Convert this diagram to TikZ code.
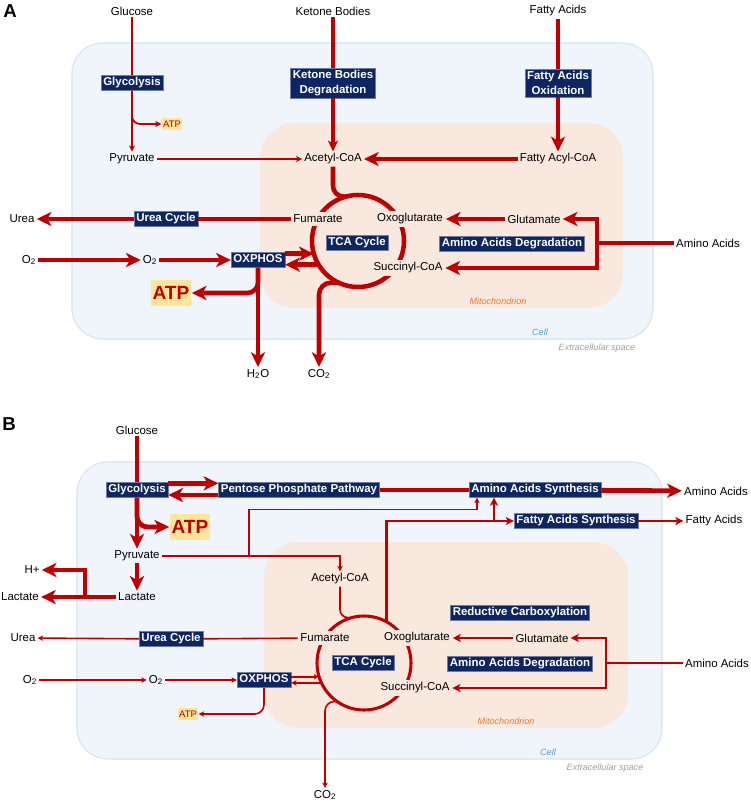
\documentclass[tikz,border=0pt]{standalone}
\usepackage{fontspec}
\setmainfont{Liberation Sans}
\usetikzlibrary{arrows.meta}
\definecolor{tred}{RGB}{192,0,0}
\definecolor{navyb}{RGB}{14,37,99}
\definecolor{cellfill}{RGB}{239,245,251}
\definecolor{celledge}{RGB}{212,228,245}
\definecolor{mitofill}{RGB}{249,232,221}
\definecolor{atpbg}{RGB}{255,229,153}
\definecolor{mitotext}{RGB}{237,125,49}
\definecolor{celltext}{RGB}{91,155,213}
\definecolor{exttext}{RGB}{160,160,160}

\begin{document}
\begin{tikzpicture}[x=0.75pt,y=-0.75pt,
      metab/.style={font=\fontsize{8.6}{10}\selectfont, inner sep=1.5pt},
      oncycle/.style={metab, fill=mitofill, inner sep=2pt},
      pathway/.style={fill=navyb, draw=navyb!60!white, line width=0.3pt, text=white, font=\bfseries\fontsize{8.6}{10}\selectfont, inner xsep=1.8pt, inner ysep=1.5pt, text height=6.3pt, text depth=1.9pt},
      pathwaytwo/.style={fill=navyb, draw=navyb!60!white, line width=0.3pt, text=white, font=\bfseries\fontsize{8.6}{10.8}\selectfont, align=center, inner xsep=1.8pt, inner ysep=2pt},
      atpsmall/.style={fill=atpbg, text=tred, font=\fontsize{7.1}{8}\selectfont, inner xsep=1.2pt, inner ysep=2.2pt, text height=5.2pt, text depth=0pt},
      atpbig/.style={fill=atpbg, text=tred, font=\bfseries\fontsize{14.3}{16}\selectfont, inner xsep=1.6pt, inner ysep=4.6pt, text height=10.3pt, text depth=0pt},
      region/.style={font=\itshape\fontsize{6.8}{8}\selectfont},
      panel/.style={font=\bfseries\fontsize{14}{16}\selectfont, inner sep=0pt},
      cellbox/.style={fill=cellfill, draw=celledge, line width=0.8pt, rounded corners=23pt},
      mitobox/.style={fill=mitofill, rounded corners=26pt},
      tca/.style={circle, draw=tred, inner sep=0pt, outer sep=0pt},
      thickA/.style={draw=tred, line width=3.4pt, -{Stealth[length=11pt,width=10.5pt,inset=3pt]}},
      medA/.style={draw=tred, line width=2.4pt, -{Stealth[length=8pt,width=7.5pt,inset=2pt]}},
      thinA/.style={draw=tred, line width=1.3pt, -{Stealth[length=4.5pt,width=4.5pt,inset=1.2pt]}},
      thickB/.style={draw=tred, line width=3.6pt, -{Stealth[length=11pt,width=10.5pt,inset=3pt]}},
      medB/.style={draw=tred, line width=2pt, -{Stealth[length=6pt,width=6pt,inset=1.5pt]}},
      thinB/.style={draw=tred, line width=1.2pt, -{Stealth[length=4pt,width=4pt,inset=1pt]}}
    ]
    \useasboundingbox (0,0) rectangle (750,802);

    % panel A
    \draw[cellbox] (72,43) rectangle (653,339);
    \fill[mitobox] (260,123) rectangle (623,308);
    \node[panel] (lblA) at (10,11) {A};

    \node[metab] (glcA) at (132,11) {Glucose};
    \node[metab] (kbA) at (333,11) {Ketone Bodies};
    \node[metab] (faA) at (558,11) {Fatty Acids};
    \node[pathway] (glyA) at (132,83) {Glycolysis};
    \node[pathwaytwo] (kbdA) at (333,83) {Ketone Bodies\\Degradation};
    \node[pathwaytwo] (faoA) at (558,83) {Fatty Acids\\Oxidation};
    \node[atpsmall] (atpA) at (172,124) {ATP};
    \node[metab] (pyrA) at (132,159) {Pyruvate};
    \node[metab] (acA) at (333,159) {Acetyl-CoA};
    \node[metab] (facA) at (558,159) {Fatty Acyl-CoA};
    \node[tca, line width=3.4pt, minimum size=69pt] (tcaA) at (358,241) {};
    \node[pathway] (tcalA) at (357,243) {TCA Cycle};
    \node[oncycle] (fumA) at (318,219) {Fumarate};
    \node[oncycle] (oxgA) at (410,219) {Oxoglutarate};
    \node[oncycle] (sucA) at (408,268) {Succinyl-CoA};
    \node[metab] (ureaA) at (22,219) {Urea};
    \node[pathway] (ucA) at (166,219) {Urea Cycle};
    \node[metab] (o2oA) at (29,260) {O\textsubscript{2}};
    \node[metab] (o2iA) at (150,260) {O\textsubscript{2}};
    \node[pathway] (oxA) at (258,260) {OXPHOS};
    \node[atpbig] (atpbigA) at (171,293) {ATP};
    \node[metab] (h2oA) at (258,374) {H\textsubscript{2}O};
    \node[metab] (co2A) at (319,374) {CO\textsubscript{2}};
    \node[metab] (gluA) at (534,219) {Glutamate};
    \node[pathway] (aadA) at (512,244) {Amino Acids Degradation};
    \node[metab] (aaA) at (708,243) {Amino Acids};
    \coordinate (jA) at (597,243);
    \node[region, text=mitotext] (mitoA) at (498,301) {Mitochondrion};
    \node[region, text=celltext] (cellA) at (540,332) {Cell};
    \node[region, text=exttext] (extA) at (597,348) {Extracellular space};

    \draw[thinA,-] (glcA) -- (glyA);
    \draw[thinA] (glyA) -- (pyrA);
    \draw[thinA, rounded corners=6pt] (glyA.south) |- (atpA.west);
    \draw[thinA] (pyrA) -- (acA);
    \draw[medA,-] (kbA) -- (kbdA);
    \draw[medA] (kbdA) -- (acA);
    \draw[thickA,-] (faA) -- (faoA);
    \draw[thickA] (faoA) -- (facA);
    \draw[thickA] (facA) -- (acA);
    \draw[thickA,-,rounded corners=8pt] (acA.south) |- (tcaA.105);
    \draw[thickA,-] (fumA) -- (ucA);
    \draw[thickA] (ucA) -- (ureaA);
    \draw[thickA] (o2oA) -- (o2iA);
    \draw[thickA] (o2iA) -- (oxA);
    \draw[thickA] (tcaA.196 -| oxA.east) -- (tcaA.196);
    \draw[thickA] (tcaA.211) -- (tcaA.211 -| oxA.east);
    \draw[thickA] (oxA) -- (h2oA);
    \draw[thickA, rounded corners=8pt] (oxA.south) |- (atpbigA.east);
    \draw[thickA, rounded corners=9pt] (tcaA.245) -| (co2A.north);
    \draw[thickA,-] (aaA) -- (jA);
    \draw[thickA] (jA) |- (gluA.east);
    \draw[thickA] (jA) |- (sucA.east);
    \draw[thickA] (gluA) -- (oxgA);

    % panel B
    \draw[cellbox] (77,462) rectangle (662,759);
    \fill[mitobox] (264,542) rectangle (628,728);
    \node[panel] (lblB) at (9,424) {B};

    \node[metab] (glcB) at (137,430) {Glucose};
    \node[pathway] (glyB) at (137,490) {Glycolysis};
    \node[pathway] (pppB) at (299,490) {Pentose Phosphate Pathway};
    \node[pathway] (aasB) at (535,490) {Amino Acids Synthesis};
    \node[metab] (aaoutB) at (716,491) {Amino Acids};
    \node[pathway] (fasB) at (576,521) {Fatty Acids Synthesis};
    \node[metab] (faoutB) at (714,521) {Fatty Acids};
    \node[atpbig] (atpbigB) at (190,527) {ATP};
    \node[metab] (pyrB) at (137,556) {Pyruvate};
    \node[metab] (lacB) at (137,597) {Lactate};
    \node[metab] (lacoutB) at (20,597) {Lactate};
    \node[metab] (hB) at (32,570) {H+};
    \coordinate (jlB) at (85,597);
    \coordinate (jpB) at (249,556);
    \node[metab] (acB) at (340,579) {Acetyl-CoA};
    \node[tca, line width=2.3pt, minimum size=70.5pt] (tcaB) at (364,663) {};
    \node[pathway] (tcalB) at (363,663) {TCA Cycle};
    \node[oncycle] (fumB) at (325,638) {Fumarate};
    \node[oncycle] (oxgB) at (417,638) {Oxoglutarate};
    \node[oncycle] (sucB) at (415,688) {Succinyl-CoA};
    \node[metab] (ureaB) at (23,638) {Urea};
    \node[pathway] (ucB) at (171,639) {Urea Cycle};
    \node[metab] (o2oB) at (30,680) {O\textsubscript{2}};
    \node[metab] (o2iB) at (156,680) {O\textsubscript{2}};
    \node[pathway] (oxB) at (264,680) {OXPHOS};
    \node[atpsmall] (atpB) at (188,714) {ATP};
    \node[metab] (co2B) at (325,795) {CO\textsubscript{2}};
    \node[pathway] (rcB) at (520,613) {Reductive Carboxylation};
    \node[metab] (glutB) at (542,638) {Glutamate};
    \node[pathway] (aadB) at (520,664) {Amino Acids Degradation};
    \node[metab] (aaB) at (717,663) {Amino Acids};
    \coordinate (jB) at (606,663);
    \node[region, text=mitotext] (mitoB) at (506,721) {Mitochondrion};
    \node[region, text=celltext] (cellB) at (548,752) {Cell};
    \node[region, text=exttext] (extB) at (605,768) {Extracellular space};

    \draw[thickB,-] (glcB) -- (glyB);
    \draw[thickB] (glyB) -- (pyrB);
    \draw[thickB, rounded corners=8pt] (glyB.south) |- (atpbigB.west);
    \draw[thickB] (pyrB) -- (lacB);
    \draw[thickB] (lacB) -- (lacoutB);
    \draw[thickB] (jlB) |- (hB.east);
    \coordinate (gpupB) at ([yshift=5pt]glyB.east);
    \coordinate (gpdnB) at ([yshift=-3.75pt]pppB.west);
    \draw[thickB] (gpupB) -- (gpupB -| pppB.west);
    \draw[thickB] (gpdnB) -- (gpdnB -| glyB.east);
    \draw[thickB,-] (pppB) -- (aasB);
    \draw[thickB] (aasB) -- (aaoutB);
    \draw[medB] (fasB) -- (faoutB);
    \draw[thinB,-] (pyrB) -- (jpB);
    \draw[thinB] (jpB) -| (acB.north);
    \coordinate (aasinB) at ([xshift=-43.5pt]aasB.south);
    \coordinate (aasintB) at ([xshift=-30.75pt]aasB.south);
    \draw[thinB] (jpB) |- ([yshift=-9pt]aasinB) -- (aasinB);
    \draw[medB] (tcaB.61) |- (fasB.west);
    \draw[medB] (aasintB |- fasB.west) -- (aasintB);
    \draw[thinB,-,rounded corners=6pt] (acB.south) |- (tcaB.105);
    \draw[thinB,-] (fumB) -- (ucB);
    \draw[thinB] (ucB) -- (ureaB);
    \draw[thinB] (o2oB) -- (o2iB);
    \draw[thinB] (o2iB) -- (oxB);
    \draw[thinB] (tcaB.197 -| oxB.east) -- (tcaB.197);
    \draw[thinB] (tcaB.205) -- (tcaB.205 -| oxB.east);
    \draw[thinB, rounded corners=7pt] (oxB.south) |- (atpB.east);
    \draw[thinB, rounded corners=7pt] (tcaB.235) -| (co2B.north);
    \draw[medB,-] (aaB) -- (jB);
    \draw[medB] (jB) |- (glutB.east);
    \draw[medB] (jB) |- (sucB.east);
    \draw[medB] (glutB) -- (oxgB);
  \end{tikzpicture}
\end{document}
